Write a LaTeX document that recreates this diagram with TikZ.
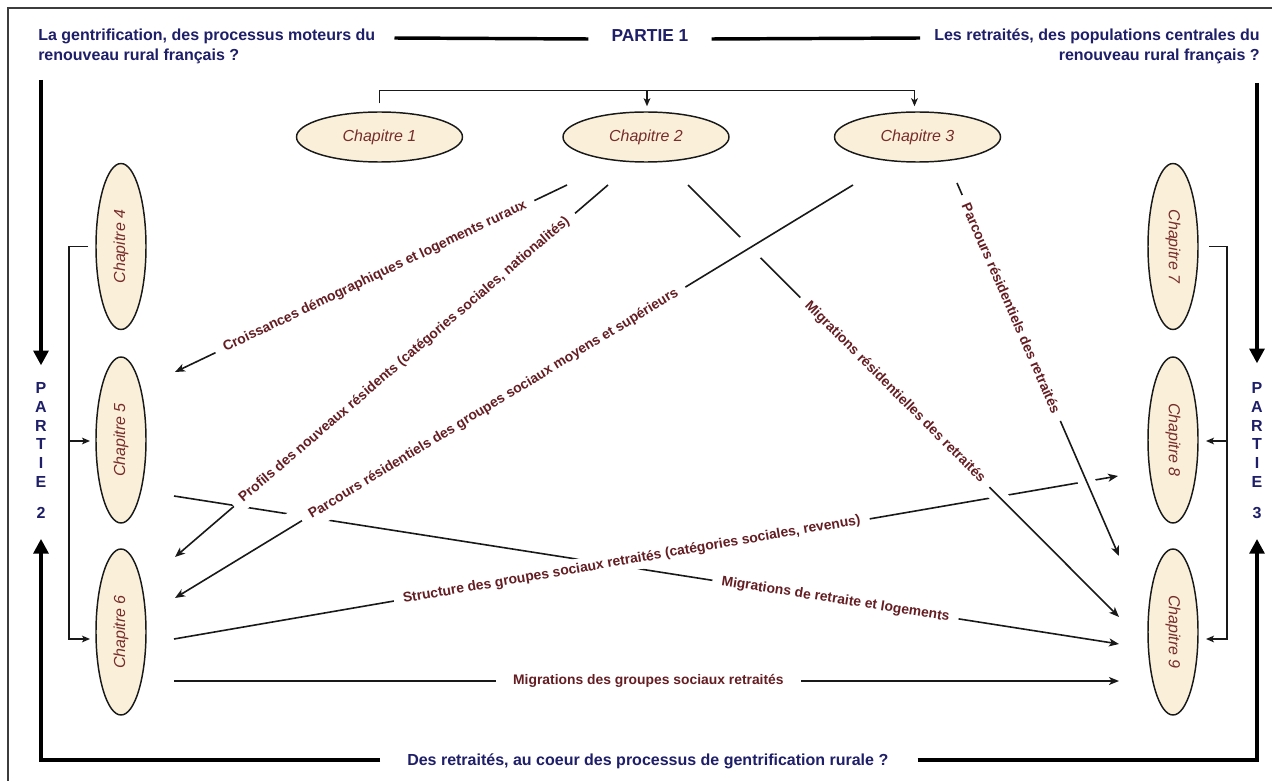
\documentclass[tikz,border=0pt]{standalone}
\usepackage{fontspec}
\setmainfont{Liberation Sans}
\usetikzlibrary{arrows.meta,shapes.geometric,calc}
\definecolor{navy}{RGB}{30,30,105}
\definecolor{maroon}{RGB}{100,30,35}
\definecolor{chtxt}{RGB}{120,45,45}
\definecolor{cream}{RGB}{250,240,218}
\definecolor{ink}{RGB}{25,25,25}
\definecolor{framec}{RGB}{60,60,60}
\begin{document}
\begin{tikzpicture}[x=0.75pt,y=-0.75pt,
  chap/.style={ellipse,draw=ink,line width=1.1pt,fill=cream,minimum width=124.5pt,minimum height=37.5pt,inner sep=0pt,font=\fontsize{12pt}{14pt}\selectfont\itshape,text=chtxt},
  head/.style={font=\fontsize{12pt}{14pt}\selectfont\bfseries,text=navy,inner sep=0pt},
  vert/.style={font=\fontsize{12pt}{14.06pt}\selectfont\bfseries,text=navy,inner sep=0pt,align=center},
  thickline/.style={draw=black,line width=3pt},
  headline/.style={draw=black,line width=2.6pt},
  bigarrow/.style={thickline,-{Triangle[length=11pt,width=11pt]}},
  conn/.style={draw=ink,line width=1.2pt,-{Stealth[length=7.5pt,width=6pt,inset=2pt]}},
  brk/.style={draw=ink,line width=1.1pt},
  brkarrow/.style={brk,-{Stealth[length=6pt,width=5pt,inset=1.5pt]}},
  lbl/.style={sloped,fill=white,inner xsep=7pt,inner ysep=3pt,font=\fontsize{10.4pt}{12pt}\selectfont\bfseries,text=maroon},
  halo/.style={preaction={draw=white,line width=#1,-}},
]
\useasboundingbox (0,0) rectangle (1272,781);
\fill[white] (0,0) rectangle (1272,781);
\draw[draw=framec,line width=1.5pt] (8,781) -- (8,8) -- (1272,8);

% chapters
\node[chap] (c1) at (379.5,137) {Chapitre 1};
\node[chap] (c2) at (646,137) {Chapitre 2};
\node[chap] (c3) at (917.5,137) {Chapitre 3};
\node[chap,rotate=90] (c4) at (121,246.5) {Chapitre 4};
\node[chap,rotate=90] (c5) at (121,440) {Chapitre 5};
\node[chap,rotate=90] (c6) at (121,632) {Chapitre 6};
\node[chap,rotate=-90] (c7) at (1173,246.5) {Chapitre 7};
\node[chap,rotate=-90] (c8) at (1173,440) {Chapitre 8};
\node[chap,rotate=-90] (c9) at (1173,632) {Chapitre 9};

% headings
\node[head,anchor=base west] (hl1) at (38,41) {La gentrification, des processus moteurs du};
\node[head,anchor=base west] (hl2) at (38,61) {renouveau rural français ?};
\node[head,anchor=base east] (hr1) at (1260,41) {Les retraités, des populations centrales du};
\node[head,anchor=base east] (hr2) at (1260,61) {renouveau rural français ?};
\node[head,font=\fontsize{13pt}{15pt}\selectfont\bfseries,anchor=base] (p1) at (650,42) {PARTIE 1};
\node[head,anchor=base west] (hb) at (407,765) {Des retraités, au coeur des processus de gentrification rurale ?};
\node[vert] (vp2) at (41,435) {P\\A\\R\\T\\I\\E};
\node[vert] (n2) at (41,513) {2};
\node[vert] (vp3) at (1257,435) {P\\A\\R\\T\\I\\E};
\node[vert] (n3) at (1257,513) {3};

% heading lines and big arrows
\draw[headline] ($(hl1.base east)+(19,-3)$) -- ($(p1.base west)+(-23,-3)$);
\draw[headline] ($(p1.base east)+(23,-3)$) -- ($(hr1.base west)+(-14,-3)$);
\draw[bigarrow] ($(hl2.base west)+(3,19)$) -- ($(vp2.north)+(0,-17)$);
\draw[bigarrow] ($(hr2.base east)+(-3,22)$) -- ($(vp3.north)+(0,-19)$);
\coordinate (cbl) at (41,760);
\coordinate (cbr) at (1257,760);
\draw[bigarrow] ($(hb.base west)+(-27,-5)$) -- (cbl) -- ($(n2.south)+(0,20)$);
\draw[bigarrow] ($(hb.base east)+(29,-5)$) -- (cbr) -- ($(n3.south)+(0,20)$);

% brackets
\draw[brkarrow] ($(c1.north)+(0,-8)$) -- ($(c1.north)+(0,-21)$) -| ($(c3.north)+(-3,-5)$);
\draw[brkarrow] ($(c2.north)+(1,-21)$) -- ($(c2.north)+(1,-5)$);
\draw[brkarrow] ($(c4.center)+(-33,0)$) -- ++(-19,0) |- ($(c6.center)+(-31,7)$);
\draw[brkarrow] ($(c5.center)+(-52,1)$) -- ($(c5.center)+(-31,1)$);
\draw[brkarrow] ($(c7.center)+(36,0)$) -- ++(18,0) |- ($(c9.center)+(33,7)$);
\draw[brkarrow] ($(c8.center)+(54,1)$) -- ($(c8.center)+(33,1)$);

% connector end points
\coordinate (as) at ($(c2.center)+(-79,48)$);
\coordinate (ae) at ($(c5.center)+(54,-68)$);
\coordinate (bs) at ($(c2.center)+(-38,48)$);
\coordinate (be) at ($(c6.center)+(54,-75)$);
\coordinate (cs) at ($(c3.center)+(-64.5,48)$);
\coordinate (ce) at ($(c6.center)+(54,-34)$);
\coordinate (ds) at ($(c2.center)+(42,48)$);
\coordinate (de) at ($(c9.center)+(-54,-15)$);
\coordinate (es) at ($(c3.center)+(39.5,46)$);
\coordinate (ee) at ($(c9.center)+(-54,-76)$);
\coordinate (fs) at ($(c6.center)+(53,7)$);
\coordinate (fe) at ($(c8.center)+(-55,36)$);
\coordinate (gs) at ($(c5.center)+(53,56)$);
\coordinate (ge) at ($(c9.center)+(-54,12)$);
\coordinate (hs) at ($(c6.center)+(53,49)$);
\coordinate (he) at ($(c9.center)+(-54,49)$);

% connectors (lower ones first)
\draw[conn] (fs) -- (fe);
\draw[conn] (gs) -- (ge);
\draw[conn] (hs) -- (he);
\draw[conn] (as) -- (ae);
\draw[conn,halo=12pt] (ds) -- (de);
\draw[conn,halo=13pt] (es) -- (ee);
\draw[conn,halo=21pt] (cs) -- (ce);
\draw[conn] (bs) -- (be);

% labels
\path (as) -- (ae) node[lbl,pos=0.49] {Croissances démographiques et logements ruraux};
\path (bs) -- (be) node[lbl,pos=0.47] {Profils des nouveaux résidents (catégories sociales, nationalités)};
\path (cs) -- (ce) node[lbl,pos=0.53] {Parcours résidentiels des groupes sociaux moyens et supérieurs};
\path (ds) -- (de) node[lbl,pos=0.48] {Migrations résidentielles des retraités};
\path (es) -- (ee) node[lbl,pos=0.335] {Parcours résidentiels des retraités};
\path (fs) -- (fe) node[lbl,pos=0.485] {Structure des groupes sociaux retraités (catégories sociales, revenus)};
\path (gs) -- (ge) node[lbl,pos=0.70] {Migrations de retraite et logements};
\path (hs) -- (he) node[lbl,pos=0.502,inner xsep=13pt] {Migrations des groupes sociaux retraités};
\end{tikzpicture}
\end{document}
